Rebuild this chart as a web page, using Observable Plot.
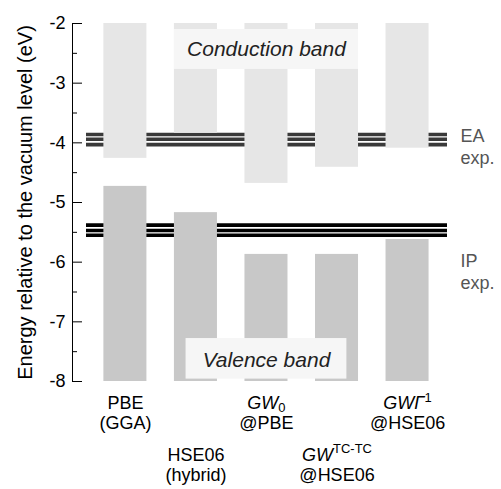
<!DOCTYPE html>
<html><head><meta charset="utf-8">
<script src="https://cdn.jsdelivr.net/npm/d3@7"></script>
<script src="https://cdn.jsdelivr.net/npm/@observablehq/plot@0.6"></script>
<style>
body{margin:0;background:#fff;}
#chart svg{display:block;font-family:"Liberation Sans", Arial, Helvetica, sans-serif !important;}
#chart svg text{font-family:"Liberation Sans", Arial, Helvetica, sans-serif;}
</style></head><body><div id="chart"></div>
<script>
// ---- data ----
const methods = ["PBE (GGA)", "HSE06 (hybrid)", "GW0 @PBE", "GW TC-TC @HSE06", "GWΓ1 @HSE06"];
const conductionMin = [-4.26, -3.84, -4.68, -4.41, -4.09];
const valenceMax = [-4.73, -5.17, -5.87, -5.87, -5.62];
const eaExp = [-3.86, -3.94, -4.03];
const ipExp = [-5.38, -5.47, -5.55];
const majorTicks = [-2, -3, -4, -5, -6, -7, -8];
const minorTicks = [-2.5, -3.5, -4.5, -5.5, -6.5, -7.5];
const labelTop = ["PBE", "HSE06", "*GW*_0", "*GW*^TC-TC", "*GWΓ*^1"];
const labelBottom = ["(GGA)", "(hybrid)", "@PBE", "@HSE06", "@HSE06"];
const labelRow = [0, 1, 0, 1, 0];
const yLabel = "Energy relative to the vacuum level (eV)";
const bandTop = -2, bandBottom = -8;

// ---- chart ----
const idx = methods.map((_, i) => i);
const half = 0.305;
const row0 = idx.filter(i => labelRow[i] === 0);
const row1 = idx.filter(i => labelRow[i] === 1);

const chart = Plot.plot({
  width: 501,
  height: 489,
  marginLeft: 72,
  marginRight: 34,
  marginTop: 23,
  marginBottom: 108,
  style: {fontSize: "18px", background: "#fff", color: "#000"},
  x: {domain: [-0.75, 4.85], axis: null},
  y: {domain: [bandBottom, bandTop]},
  marks: [
    Plot.ruleY(eaExp, {stroke: "#3a3a3a", strokeWidth: 3.6, insetLeft: 14, insetRight: 20}),
    Plot.ruleY(ipExp, {stroke: "#000", strokeWidth: 3.6, insetLeft: 14, insetRight: 20}),
    Plot.rect(idx, {x1: i => i - half, x2: i => i + half, y1: i => conductionMin[i], y2: () => bandTop, fill: "#e6e6e6"}),
    Plot.rect(idx, {x1: i => i - half, x2: i => i + half, y1: () => bandBottom, y2: i => valenceMax[i], fill: "#c8c8c8"}),
    Plot.rect([0], {x1: () => 1 - half, x2: () => 3 + half, y1: () => -2.10, y2: () => -2.77, fill: "#f6f6f6"}),
    Plot.rect([0], {x1: () => 0.86, x2: () => 3.14, y1: () => -7.28, y2: () => -7.96, fill: "#f6f6f6"}),
    Plot.text(["Conduction band"], {x: () => 2, y: () => -2.435, fontSize: 21, fontStyle: "italic", fill: "#222"}),
    Plot.text(["Valence band"], {x: () => 2, y: () => -7.645, fontSize: 21, fontStyle: "italic", fill: "#222"}),
    Plot.frame({anchor: "left"}),
    Plot.axisY(majorTicks, {anchor: "left", tickSize: 10, dx: 10, tickPadding: 7, tickFormat: d => String(d), fontSize: 18, label: null}),
    Plot.axisY(minorTicks, {anchor: "left", tickSize: 5, dx: 5, tickFormat: () => "", label: null}),
    Plot.text([yLabel], {frameAnchor: "left", textAnchor: "middle", rotate: -90, dx: -47, fontSize: 20}),
    Plot.text(["EA\nexp."], {frameAnchor: "right", y: () => -4.05, dx: -7, textAnchor: "start", lineHeight: 1.22, fill: "#555", fontSize: 18}),
    Plot.text(["IP\nexp."], {frameAnchor: "right", y: () => -6.15, dx: -7, textAnchor: "start", lineHeight: 1.22, fill: "#555", fontSize: 18}),
    Plot.text(row0, {x: i => i, frameAnchor: "bottom", textAnchor: "middle", text: i => labelTop[i], dy: 27.5, fontSize: 18}),
    Plot.text(row0, {x: i => i, frameAnchor: "bottom", textAnchor: "middle", text: i => labelBottom[i], dy: 47.5, fontSize: 18}),
    Plot.text(row1, {x: i => i, frameAnchor: "bottom", textAnchor: "middle", text: i => labelTop[i], dy: 79, fontSize: 18}),
    Plot.text(row1, {x: i => i, frameAnchor: "bottom", textAnchor: "middle", text: i => labelBottom[i], dy: 99, fontSize: 18})
  ]
});

// rich text: italic base + sub/superscript
d3.select(chart).selectAll("text").each(function () {
  const s = this.textContent;
  const m = s.match(/^\*(.+?)\*(?:([_^])(.+))?$/);
  if (!m) return;
  const el = d3.select(this);
  el.text(null);
  el.append("tspan").attr("font-style", "italic").text(m[1]);
  if (m[2]) {
    el.append("tspan")
      .attr("font-size", "0.72em")
      .attr("dy", m[2] === "^" ? "-0.55em" : "0.25em")
      .text(m[3]);
  }
});

document.getElementById("chart").appendChild(chart);
</script></body></html>
